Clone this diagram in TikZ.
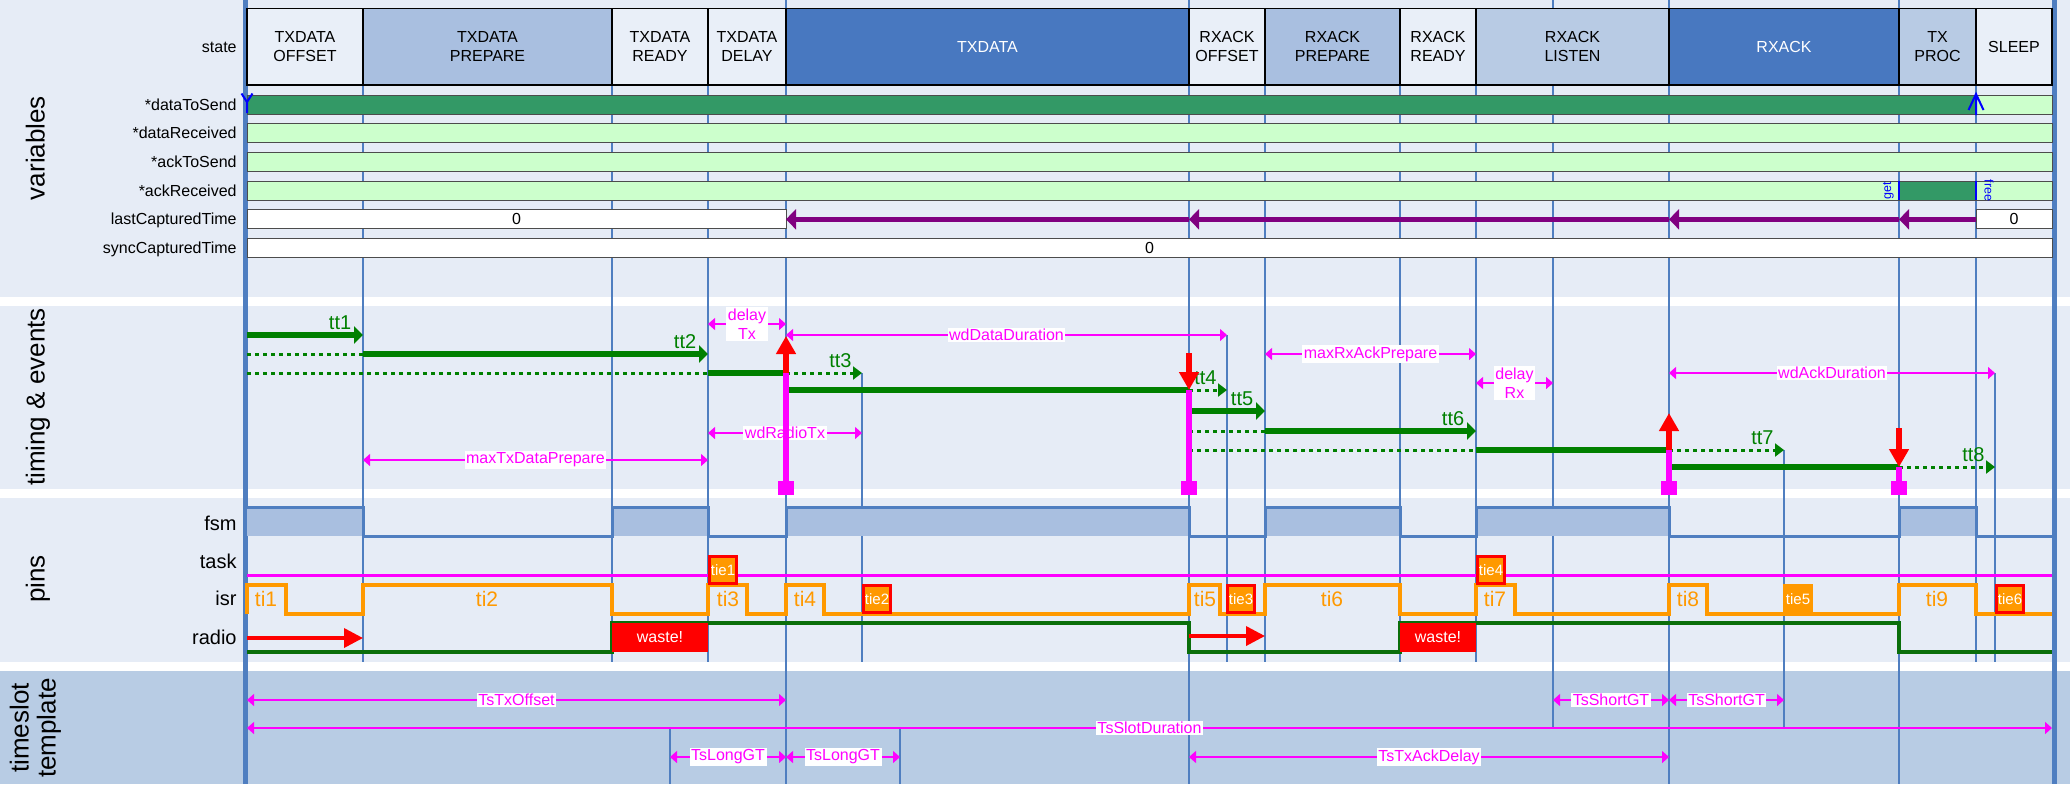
\documentclass[tikz,border=0pt]{standalone}
\usepackage{fontspec}
\setmainfont{Liberation Sans}
\usetikzlibrary{arrows.meta}

\definecolor{bgpale}{HTML}{E6ECF6}
\definecolor{bgslot}{HTML}{B8CCE4}
\definecolor{gridblue}{HTML}{4F7EC0}
\definecolor{stpale}{HTML}{E9EFF8}
\definecolor{stmid}{HTML}{A9BFE0}
\definecolor{stsoft}{HTML}{B8CBE4}
\definecolor{stdark}{HTML}{4878C0}
\definecolor{vardark}{HTML}{339966}
\definecolor{varpale}{HTML}{CCFFCC}
\definecolor{ttgreen}{HTML}{008000}
\definecolor{isrorange}{HTML}{FF9900}
\definecolor{radiogreen}{HTML}{0A6E0A}
\definecolor{captpurple}{HTML}{800080}
\definecolor{dimpink}{HTML}{FF00FF}

\begin{document}
\begin{tikzpicture}[x=0.5pt, y=-0.5pt,
        every node/.style = {font=\fontsize{8}{9.5}\selectfont},
        sectitle/.style = {rotate=90, inner sep=0pt, font=\fontsize{13}{13.5}\selectfont},
        rowlabel/.style = {anchor=base east, inner sep=0pt},
        pinlabel/.style = {anchor=base east, inner sep=0pt, font=\fontsize{10}{12}\selectfont},
        gridthin/.style = {gridblue, line width=0.75pt},
        gridmain/.style = {gridblue, line width=1.3pt},
        gridouter/.style = {gridblue, line width=2.2pt},
        statebox/.style = {draw=black, line width=0.6pt},
        varbar/.style = {draw=black!70, line width=0.5pt},
        markblue/.style = {blue, line width=1pt},
        captarrow/.style = {captpurple, line width=2.2pt, -{Triangle[length=5pt, width=10pt]}},
        tton/.style = {ttgreen, line width=2.8pt},
        ttoff/.style = {ttgreen, line width=1.5pt, dash pattern=on 2.2pt off 1.8pt},
        tthead/.style = {-{Triangle[length=4.5pt, width=8.5pt]}},
        ttheadsmall/.style = {-{Triangle[length=4.5pt, width=6.5pt]}},
        ttlabel/.style = {anchor=base east, inner sep=0pt, xshift=-4.5pt, yshift=3pt, text=ttgreen, font=\fontsize{10}{12}\selectfont},
        evline/.style = {dimpink, line width=2.6pt},
        evarrow/.style = {red, line width=2.7pt, -{Triangle[length=9pt, width=9.5pt]}},
        evsquare/.style = {fill=dimpink, minimum width=8pt, minimum height=7pt, inner sep=0pt},
        dimline/.style = {dimpink, line width=0.65pt, {Triangle[length=3.5pt, width=6pt]}-{Triangle[length=3.5pt, width=6pt]}},
        dimlabel/.style = {fill=white, text=dimpink, inner sep=0.8pt, align=center},
        fsmline/.style = {gridblue, line width=1.5pt},
        isrline/.style = {isrorange, line width=1.6pt},
        radioline/.style = {radiogreen, line width=1.8pt},
        radioarrow/.style = {red, line width=1.8pt, -{Triangle[length=9.5pt, width=9.5pt]}},
        tilabel/.style = {anchor=base, inner sep=0pt, text=isrorange, font=\fontsize{10.5}{12}\selectfont},
        tiebox/.style = {fill=isrorange, line width=1.6pt, minimum width=13.5pt, minimum height=13.5pt, inner sep=0pt, text=white, font=\fontsize{7.5}{9}\selectfont},
        wastebox/.style = {fill=red, minimum height=14.5pt, inner sep=0pt, text=white}
    ]
    \useasboundingbox (0,0) rectangle (2070,784);
    \fill[white] (0,0) rectangle (2070,784);
    \fill[bgpale] (0,0) rectangle (2070,297);
    \fill[bgpale] (0,306) rectangle (2070,489);
    \fill[bgpale] (0,498) rectangle (2070,662);
    \fill[bgslot] (0,671) rectangle (2070,784);

    % section titles
    \node[sectitle, anchor=base] (secvar) at (44.5,148) {variables};
    \node[sectitle, anchor=base] (sectiming) at (44.5,397) {timing \& events};
    \node[sectitle, anchor=base] (secpins) at (44.5,579) {pins};
    \node[sectitle, align=center] (secslot) at (35.5,728) {timeslot\\template};

    % time grid
    \foreach \x in {363,612,708,1265,1400,1476,1976}
        \draw[gridthin] (\x,85) -- (\x,662);
    \foreach \x/\ya/\yb in {1553/0/728, 862/373/662, 1227/335/662, 1784/450/728, 1995/373/662, 670/728/784, 900/728/784}
        \draw[gridthin] (\x,\ya) -- (\x,\yb);
    \foreach \x in {786,1189,1669,1899}
        \draw[gridmain] (\x,0) -- (\x,784);
    \foreach \x in {245.5,2054.5}
        \draw[gridouter] (\x,0) -- (\x,784);

    % state row
    \node[rowlabel] (statelbl) at (237,52.5) {state};
    \foreach \xa/\xb/\lab/\col/\tcol [count=\i] in {
            247/363/TXDATA\\OFFSET/stpale/black,
            363/612/TXDATA\\PREPARE/stmid/black,
            612/708/TXDATA\\READY/stpale/black,
            708/786/TXDATA\\DELAY/stpale/black,
            786/1189/TXDATA/stdark/white,
            1189/1265/RXACK\\OFFSET/stpale/black,
            1265/1400/RXACK\\PREPARE/stmid/black,
            1400/1476/RXACK\\READY/stpale/black,
            1476/1669/RXACK\\LISTEN/stsoft/black,
            1669/1899/RXACK/stdark/white,
            1899/1976/TX\\PROC/stsoft/black,
            1976/2052/SLEEP/stpale/black} {
        \draw[statebox, fill=\col] (\xa,8.5) rectangle (\xb,85);
        \node[text=\tcol, align=center] (state\i) at ({(\xa+\xb)/2},46.5) {\lab};
    }

    % variables
    \foreach \lab [count=\i] in {*dataToSend,*dataReceived,*ackToSend,*ackReceived,lastCapturedTime,syncCapturedTime}
        \node[rowlabel] (var\i) at (237,{81.3+28.7*\i}) {\lab};
    \foreach \i in {0,...,3}
        \draw[varbar, fill=varpale] (247,{95+28.7*\i}) rectangle (2052,{114+28.7*\i});
    \draw[varbar, fill=vardark] (247,95) rectangle (1976,114);
    \draw[varbar, fill=vardark] (1899,181.1) rectangle (1976,200.1);
    \draw[markblue] (247,113) -- (247,102) (241.5,93.5) -- (247,102) -- (252.5,93.5);
    \draw[markblue] (1976,115) -- (1976,94) (1968.5,110) -- (1976,94) -- (1983.5,110);
    \draw[blue, line width=1.2pt] (1899,181.1) -- (1899,200.1) (1976,181.1) -- (1976,200.1);
    \node[rotate=90, anchor=base, inner sep=0pt, text=blue, font=\fontsize{6.25}{7}\selectfont] (getlbl) at (1891,191) {get};
    \node[rotate=-90, anchor=base, inner sep=0pt, text=blue, font=\fontsize{6.25}{7}\selectfont] (freelbl) at (1984.5,190.5) {free};

    \draw[varbar, fill=white] (247,209.8) rectangle (786,228.8);
    \node (lastzero) at (516.5,219.3) {0};
    \draw[varbar, fill=white] (1976,209.8) rectangle (2052,228.8);
    \node (lastzerob) at (2014,219.3) {0};
    \foreach \xa/\xb in {1976/1899, 1899/1669, 1669/1189, 1189/786}
        \draw[captarrow] (\xa,219.3) -- (\xb,219.3);
    \draw[varbar, fill=white] (247,238.5) rectangle (2052,257.5);
    \node (synczero) at (1149.5,248) {0};

    % durations
    \foreach \xa/\xb/\y/\lab [count=\i] in {
            708/786/324/delay\\Tx, 786/1227/335/wdDataDuration,
            1265/1476/354/maxRxAckPrepare, 1476/1553/383/delay\\Rx,
            1669/1995/373/wdAckDuration, 708/862/433/wdRadioTx,
            363/708/460/maxTxDataPrepare, 247/786/700/TsTxOffset,
            247/2052/728/TsSlotDuration, 670/786/757/TsLongGT,
            786/900/757/TsLongGT, 1189/1669/757/TsTxAckDelay,
            1553/1669/700/TsShortGT, 1669/1784/700/TsShortGT}
        \draw[dimline] (\xa,\y) -- node[dimlabel] (dur\i) {\lab} (\xb,\y);

    % timers
    \draw[tton, tthead] (247,335) -- (363,335) node[ttlabel] (tt1) {tt1};
    \draw[ttoff] (247,354) -- (363,354);
    \draw[tton, tthead] (363,354) -- (708,354) node[ttlabel] (tt2) {tt2};
    \draw[ttoff] (247,373) -- (708,373);
    \draw[tton] (708,373) -- (786,373);
    \draw[ttoff, ttheadsmall] (786,373) -- (862,373) node[ttlabel] (tt3) {tt3};
    \draw[tton] (786,390) -- (1189,390);
    \draw[ttoff, ttheadsmall] (1189,390) -- (1227,390) node[ttlabel] (tt4) {tt4};
    \draw[tton, tthead] (1189,411) -- (1265,411) node[ttlabel] (tt5) {tt5};
    \draw[ttoff] (1189,431) -- (1265,431);
    \draw[tton, tthead] (1265,431) -- (1476,431) node[ttlabel] (tt6) {tt6};
    \draw[ttoff] (1189,450) -- (1476,450);
    \draw[tton] (1476,450) -- (1669,450);
    \draw[ttoff, ttheadsmall] (1669,450) -- (1784,450) node[ttlabel] (tt7) {tt7};
    \draw[tton] (1669,467) -- (1899,467);
    \draw[ttoff, ttheadsmall] (1899,467) -- (1995,467) node[ttlabel] (tt8) {tt8};

    % radio events
    \foreach \x/\ya/\yb/\ym [count=\i] in {786/373/336/373, 1189/353/390/390, 1669/450/413/450, 1899/428/467/467} {
        \draw[evline] (\x,\ym) -- (\x,482);
        \draw[evarrow] (\x,\ya) -- (\x,\yb);
        \node[evsquare] (ev\i) at (\x,488) {};
    }

    % pins
    \foreach \lab/\yb [count=\i] in {fsm/530, task/568, isr/605, radio/644}
        \node[pinlabel] (pin\i) at (237,\yb) {\lab};
    \foreach \xa/\xb in {247/363, 612/708, 786/1189, 1265/1400, 1476/1669, 1899/1976}
        \fill[stmid] (\xa,507) rectangle (\xb,536);
    \draw[fsmline] (247,507) -| (363,536) -| (612,507) -| (708,536) -| (786,507)
        -| (1189,536) -| (1265,507) -| (1400,536) -| (1476,507) -| (1669,536)
        -| (1899,507) -| (1976,536) -- (2052,536);
    \draw[dimpink, line width=1.5pt] (247,575) -- (2052,575);
    \draw[isrline] (247,614) -- (247,585) -| (286,614) -| (363,585) -| (612,614)
        -| (708,585) -| (747,614) -| (786,585) -| (824,614) -| (1189,585)
        -| (1220,614) -| (1265,585) -| (1400,614) -| (1476,585) -| (1515,614)
        -| (1669,585) -| (1707,614) -| (1899,585) -| (1976,614) -- (2052,614);
    \draw[radioline] (247,652) -| (612,623) -| (1189,652) -| (1400,623) -| (1899,652) -- (2052,652);
    \node[wastebox, minimum width=48pt] (waste1) at (660,637.5) {waste!};
    \node[wastebox, minimum width=38pt] (waste2) at (1438,637.5) {waste!};
    \draw[radioarrow] (247,638) -- (363,638);
    \draw[radioarrow] (1189,636) -- (1265,636);
    \foreach \x [count=\i] in {266,487,728,805,1205,1332,1495,1688,1937}
        \node[tilabel] (ti\i) at (\x,606.5) {ti\i};
    \foreach \x/\y/\b [count=\i] in {723/570/red, 877/599/red, 1241/599/red, 1491/570/red, 1798/599/isrorange, 2010/599/red}
        \node[tiebox, draw=\b] (tie\i) at (\x,\y) {tie\i};
\end{tikzpicture}
\end{document}
